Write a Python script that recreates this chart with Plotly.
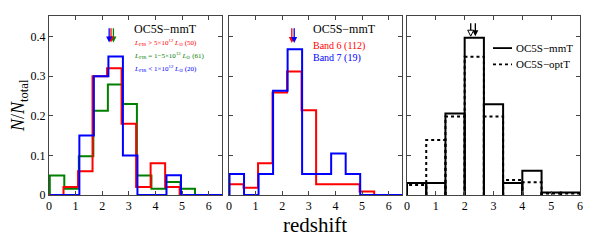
import plotly.graph_objects as go

# ---------------- data ----------------
# panels 1 & 2: bin edges (redshift)
edges_a = [0.0, 0.545, 1.091, 1.636, 2.182, 2.727, 3.273, 3.818, 4.364, 4.909, 5.455, 6.0, 6.545]
# panel 1: OC5S-mmT split by L_FIR
p1_high = [0.0, 0.02, 0.06, 0.30, 0.32, 0.18, 0.02, 0.08, 0.02, 0.0, 0.0, 0.0]     # >5e12 (50)
p1_mid = [0.049, 0.016, 0.098, 0.213, 0.279, 0.230, 0.049, 0.016, 0.033, 0.016, 0.0, 0.0]  # 1-5e12 (61)
p1_low = [0.0, 0.0, 0.15, 0.30, 0.35, 0.10, 0.0, 0.0, 0.05, 0.0, 0.0, 0.0]         # <1e12 (20)
p1_medians = [2.42, 2.33, 2.26]   # green, red, blue arrows
# panel 2: band 6 / band 7
p2_band6 = [0.027, 0.018, 0.080, 0.259, 0.312, 0.214, 0.027, 0.027, 0.027, 0.009, 0.0, 0.0]
p2_band7 = [0.053, 0.0, 0.053, 0.263, 0.368, 0.053, 0.053, 0.105, 0.053, 0.0, 0.0, 0.0]
p2_medians = [2.36, 2.45]  # red, blue
# panel 3: mmT vs optT
edges_b = [0.0, 0.667, 1.333, 2.0, 2.667, 3.333, 4.0, 4.667, 5.333, 6.0]
p3_mmT = [0.030, 0.030, 0.206, 0.397, 0.229, 0.030, 0.061, 0.006, 0.006]
p3_optT = [0.025, 0.139, 0.198, 0.349, 0.198, 0.038, 0.032, 0.004, 0.004]
p3_medians = [2.37, 2.21]  # mmT (filled), optT (open)

yticks = [0, 0.1, 0.2, 0.3, 0.4]
xticks = [0, 1, 2, 3, 4, 5, 6]

FONT = "Liberation Serif"
RED, GREEN, BLUE = "#ff0000", "#008000", "#0000ff"

# page body has an 8px margin: figure is 590x232, placed at (8, 8)
W, H, OFF = 590, 232, 8
def px(x):
    return (x - OFF) / W
def py(y):
    return 1 - (y - OFF) / H

def step_xy(edges, vals, off=0.0):
    xs = [edges[0] + off]
    ys = [0]
    for i, v in enumerate(vals):
        xs += [edges[i] + off, edges[i + 1] + off]
        ys += [v, v]
    xs.append(edges[len(vals)] + off)
    ys.append(0)
    return xs, ys

def bars_xy(edges, vals):
    xs, ys = [], []
    for i, v in enumerate(vals):
        xs += [edges[i], edges[i], edges[i + 1], edges[i + 1], None]
        ys += [0, v, v, 0, None]
    return xs, ys

fig = go.Figure()

def add_step(edges, vals, color, xa, ya, off=0.0):
    xs, ys = step_xy(edges, vals, off)
    fig.add_trace(go.Scatter(x=xs, y=ys, mode="lines", line=dict(color=color, width=2),
                             xaxis=xa, yaxis=ya, showlegend=False, hoverinfo="skip"))

def add_arrow(xv, color, xa, ya, top, tip, size=6, open_=False):
    fig.add_trace(go.Scatter(x=[xv, xv], y=[top, tip + 0.006], mode="lines",
                             line=dict(color=color, width=1.3), xaxis=xa, yaxis=ya,
                             showlegend=False, hoverinfo="skip"))
    fig.add_trace(go.Scatter(x=[xv], y=[tip], mode="markers",
                             marker=dict(symbol="arrow-down", size=size,
                                         color="white" if open_ else color,
                                         line=dict(color=color, width=1 if open_ else 0)),
                             xaxis=xa, yaxis=ya, showlegend=False, hoverinfo="skip"))

# panel 1
add_step(edges_a, p1_mid, GREEN, "x", "y", 0.03)
add_step(edges_a, p1_high, RED, "x", "y", 0.0)
add_step(edges_a, p1_low, BLUE, "x", "y", 0.05)
for m, c in zip(p1_medians, [GREEN, RED, BLUE]):
    add_arrow(m, c, "x", "y", 0.421, 0.385)

# panel 2
add_step(edges_a, p2_band6, RED, "x2", "y2", 0.0)
add_step(edges_a, p2_band7, BLUE, "x2", "y2", 0.02)
for m, c in zip(p2_medians, [RED, BLUE]):
    add_arrow(m, c, "x2", "y2", 0.421, 0.384)

# panel 3
xs, ys = bars_xy(edges_b, p3_optT)
fig.add_trace(go.Scatter(x=xs, y=ys, mode="lines", line=dict(color="black", width=2, dash="dot"),
                         xaxis="x3", yaxis="y3", showlegend=False, hoverinfo="skip"))
xs, ys = bars_xy(edges_b, p3_mmT)
fig.add_trace(go.Scatter(x=xs, y=ys, mode="lines", line=dict(color="black", width=2),
                         xaxis="x3", yaxis="y3", showlegend=False, hoverinfo="skip"))
add_arrow(p3_medians[0], "black", "x3", "y3", 0.434, 0.401, size=6)
add_arrow(p3_medians[1], "black", "x3", "y3", 0.434, 0.401, size=6, open_=True)

axcommon = dict(showline=True, linecolor="#444", linewidth=1, mirror="ticks", ticks="inside",
                ticklen=4, tickcolor="#444", showgrid=False, zeroline=False, automargin=False,
                tickfont=dict(family=FONT, size=12, color="black"))
ydom = [py(195), py(16)]
fig.update_layout(
    width=W, height=H, margin=dict(l=0, r=0, t=0, b=0, autoexpand=False),
    paper_bgcolor="white", plot_bgcolor="white",
    xaxis=dict(domain=[px(49), px(222)], range=[0, 6.5], tickvals=xticks, anchor="y", **axcommon),
    xaxis2=dict(domain=[px(229), px(402)], range=[0, 6.5], tickvals=xticks, anchor="y2", **axcommon),
    xaxis3=dict(domain=[px(407), px(580)], range=[0, 6], tickvals=xticks, anchor="y3", **axcommon),
    yaxis=dict(domain=ydom, range=[0, 0.452], tickvals=yticks, anchor="x", **axcommon),
    yaxis2=dict(domain=ydom, range=[0, 0.452], tickvals=yticks, anchor="x2", showticklabels=False, **axcommon),
    yaxis3=dict(domain=ydom, range=[0, 0.452], tickvals=yticks, anchor="x3", showticklabels=False, **axcommon),
    showlegend=False,
)

def txt(x, y, s, color="black", size=12, xref="x", yref="y"):
    fig.add_annotation(x=x, y=y, xref=xref, yref=yref, text=s, showarrow=False,
                       xanchor="left", yanchor="middle",
                       font=dict(family=FONT, size=size, color=color))

txt(3.1, 0.419, "OC5S\u2212mmT", size=12)
txt(3.1, 0.384, "<i>L</i><sub>FIR</sub> &gt; 5\u00d710<sup>12</sup> <i>L</i><sub>\u2299</sub> (50)", RED, 7)
txt(3.1, 0.353, "<i>L</i><sub>FIR</sub> = 1\u22125\u00d710<sup>12</sup> <i>L</i><sub>\u2299</sub> (61)", GREEN, 7)
txt(3.1, 0.320, "<i>L</i><sub>FIR</sub> &lt; 1\u00d710<sup>12</sup> <i>L</i><sub>\u2299</sub> (20)", BLUE, 7)

txt(3.08, 0.418, "OC5S\u2212mmT", size=12, xref="x2", yref="y2")
txt(3.08, 0.376, "Band 6 (112)", RED, 10, xref="x2", yref="y2")
txt(3.08, 0.345, "Band 7 (19)", BLUE, 10, xref="x2", yref="y2")

# panel 3 legend
fig.add_shape(type="line", xref="x3 domain", yref="y3", x0=0.497, x1=0.607, y0=0.371, y1=0.371,
              line=dict(color="black", width=1.8))
fig.add_shape(type="line", xref="x3 domain", yref="y3", x0=0.497, x1=0.607, y0=0.330, y1=0.330,
              line=dict(color="black", width=1.8, dash="dot"))
txt(3.72, 0.371, "OC5S\u2212mmT", size=11, xref="x3", yref="y3")
txt(3.72, 0.330, "OC5S\u2212optT", size=11, xref="x3", yref="y3")

# axis titles
fig.add_annotation(x=px(19), y=py(106), xref="paper", yref="paper",
                   xanchor="center", yanchor="middle", borderpad=0,
                   text="<i>N</i>/<i>N</i><sub>total</sub>", showarrow=False, textangle=-90,
                   font=dict(family=FONT, size=18, color="black"))
fig.add_annotation(x=px(315), y=py(225), xref="paper", yref="paper",
                   xanchor="center", yanchor="middle", borderpad=0,
                   text="redshift", showarrow=False,
                   font=dict(family=FONT, size=21, color="black"))

fig.write_html("out.html")
